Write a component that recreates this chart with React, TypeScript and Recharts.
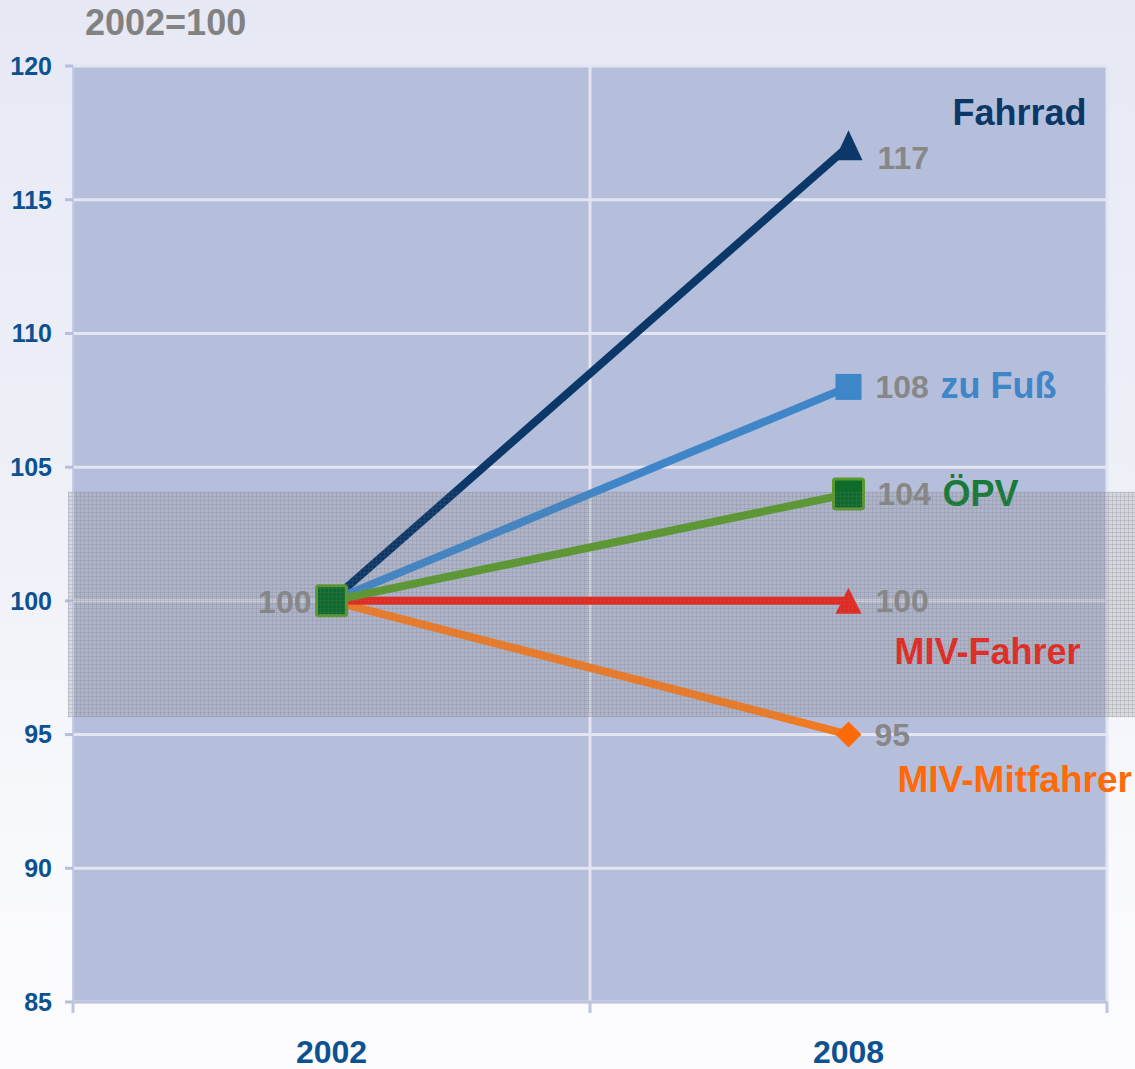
import React from 'react';
import {
  ComposedChart, Line, XAxis, YAxis, CartesianGrid, ReferenceArea, LabelList,
} from 'recharts';

const years = ['2002', '2008'];
const fahrrad = [100, 117];
const zuFuss = [100, 108];
const oepv = [100, 104];
const mivFahrer = [100, 100];
const mivMitfahrer = [100, 95];
const yTicks = [85, 90, 95, 100, 105, 110, 115, 120];
const bandRange = [95.65, 104.08];
const title = '2002=100';

const data = years.map((year, i) => ({
  year,
  fahrrad: fahrrad[i],
  zuFuss: zuFuss[i],
  oepv: oepv[i],
  mivFahrer: mivFahrer[i],
  mivMitfahrer: mivMitfahrer[i],
}));

const W = 1135;
const H = 1069;
const M = { top: 66, right: 28, left: 0, bottom: 0 };
const Y_W = 73;
const BAND = (W - M.left - M.right - Y_W) / years.length;

const FONT = '"Liberation Sans", Arial, sans-serif';
const GRAY = '#878787';
const NAVY_TICK = '#0d5190';

const C_FAHRRAD = '#0b3868';
const C_FUSS = '#3f86c8';
const C_OEPV = '#5a9a2d';
const C_OEPV_DARK = '#0d6b2c';
const C_OEPV_TEXT = '#187a38';
const C_FAHRER = '#e8281e';
const C_MIT_LINE = '#f07a24';
const C_MIT = '#ff6a08';

const ValText = ({ x, y, children, anchor = 'start' }: any) => (
  <text x={x} y={y} fill={GRAY} fontFamily={FONT} fontWeight="bold" fontSize={32} textAnchor={anchor}>{children}</text>
);
const NameText = ({ x, y, children, color, anchor = 'start' }: any) => (
  <text x={x} y={y} fill={color} fontFamily={FONT} fontWeight="bold" fontSize={36} textAnchor={anchor}>{children}</text>
);

const dotFahrrad = (p: any) => {
  const { cx, cy, index } = p;
  if (index !== 1) return <g key={`f${index}`} />;
  return (
    <polygon key={`f${index}`} points={`${cx},${cy - 16} ${cx + 14},${cy + 14} ${cx - 14},${cy + 14}`} fill={C_FAHRRAD} />
  );
};
const dotFuss = (p: any) => {
  const { cx, cy, index } = p;
  if (index !== 1) return <g key={`z${index}`} />;
  return <rect key={`z${index}`} x={cx - 13} y={cy - 13} width={26} height={26} fill={C_FUSS} />;
};
const dotOepv = (p: any) => {
  const { cx, cy, index } = p;
  return (
    <g key={`o${index}`}>
      <rect x={cx - 15} y={cy - 15} width={30} height={30} fill={C_OEPV_DARK} stroke={C_OEPV} strokeWidth={3} rx={2} />
    </g>
  );
};
const dotFahrer = (p: any) => {
  const { cx, cy, index } = p;
  if (index !== 1) return <g key={`r${index}`} />;
  return (
    <polygon key={`r${index}`} points={`${cx},${cy - 13} ${cx + 13},${cy + 13} ${cx - 13},${cy + 13}`} fill={C_FAHRER} />
  );
};
const dotMit = (p: any) => {
  const { cx, cy, index } = p;
  if (index !== 1) return <g key={`m${index}`} />;
  return (
    <polygon key={`m${index}`} points={`${cx},${cy - 13} ${cx + 13},${cy} ${cx},${cy + 13} ${cx - 13},${cy}`} fill={C_MIT} />
  );
};

const labelFahrrad = (p: any) => {
  const { x, y, index, value } = p;
  if (index !== 1) return null;
  return (
    <g>
      <ValText x={x + 29} y={y + 23}>{value}</ValText>
      <NameText x={x + 238} y={y - 21} color={C_FAHRRAD} anchor="end">Fahrrad</NameText>
    </g>
  );
};
const labelFuss = (p: any) => {
  const { x, y, index, value } = p;
  if (index !== 1) return null;
  return (
    <g>
      <ValText x={x + 27} y={y + 11}>{value}</ValText>
      <NameText x={x + 92} y={y + 11} color={C_FUSS}>zu Fuß</NameText>
    </g>
  );
};
const labelOepv = (p: any) => {
  const { x, y, index, value } = p;
  if (index === 0) {
    return <ValText x={x - 20} y={y + 12} anchor="end">{value}</ValText>;
  }
  return (
    <g>
      <ValText x={x + 29} y={y + 11}>{value}</ValText>
      <NameText x={x + 94} y={y + 12} color={C_OEPV_TEXT}>ÖPV</NameText>
    </g>
  );
};
const labelFahrer = (p: any) => {
  const { x, y, index, value } = p;
  if (index !== 1) return null;
  return (
    <g>
      <ValText x={x + 27} y={y + 11}>{value}</ValText>
      <NameText x={x + 46} y={y + 63} color={C_FAHRER}>MIV-Fahrer</NameText>
    </g>
  );
};
const labelMit = (p: any) => {
  const { x, y, index, value } = p;
  if (index !== 1) return null;
  return (
    <g>
      <ValText x={x + 26} y={y + 11}>{value}</ValText>
      <text x={x + 49} y={y + 57} fill={C_MIT} fontFamily={FONT} fontWeight="bold" fontSize={37}>MIV-Mitfahrer</text>
    </g>
  );
};

const XTick = (p: any) => {
  const { x, y, payload, index } = p;
  return (
    <g>
      <line x1={x - BAND / 2} x2={x - BAND / 2} y1={y - 8} y2={y + 3} stroke="#bcc4de" strokeWidth={3} />
      {index === years.length - 1 && (
        <line x1={x + BAND / 2} x2={x + BAND / 2} y1={y - 8} y2={y + 3} stroke="#bcc4de" strokeWidth={3} />
      )}
      <text x={x} y={y + 53} textAnchor="middle" fill={NAVY_TICK} fontFamily={FONT} fontWeight="bold" fontSize={32}>
        {payload.value}
      </text>
    </g>
  );
};

const BandUnder = (p: any) => {
  const { x, y, height } = p;
  return (
    <g>
      <defs>
        <pattern id="dotpatU" width={4} height={4} patternUnits="userSpaceOnUse">
          <rect width={4} height={4} fill="#9a9aa2" fillOpacity={0.3} />
          <rect width={4} height={1} fill="#8a8a90" fillOpacity={0.14} />
          <rect width={1} height={4} fill="#8a8a90" fillOpacity={0.14} />
        </pattern>
      </defs>
      <rect x={x - 5} y={y} width={W - x + 5} height={height} fill="url(#dotpatU)" />
    </g>
  );
};

const BandOver = (p: any) => {
  const { x, y, height } = p;
  return (
    <g>
      <defs>
        <pattern id="dotpatO" width={4} height={4} patternUnits="userSpaceOnUse">
          <rect width={4} height={1} fill="#808088" fillOpacity={0.14} />
          <rect width={1} height={4} fill="#808088" fillOpacity={0.14} />
        </pattern>
      </defs>
      <rect x={x - 5} y={y} width={W - x + 5} height={height} fill="url(#dotpatO)" />
    </g>
  );
};

export default function App() {
  return (
    <div
      style={{
        position: 'absolute', left: 0, top: 0, width: W, height: H,
        background: 'linear-gradient(180deg, #e6e9f4 0%, #eef0f8 45%, #f8f9fc 80%, #fcfcfe 100%)',
        fontFamily: FONT,
      }}
    >
      <div
        style={{
          position: 'absolute', left: 85, top: 5, fontSize: 36, fontWeight: 'bold', color: '#828282',
          lineHeight: '36px', fontFamily: FONT,
        }}
      >
        {title}
      </div>
      <ComposedChart width={W} height={H} data={data} margin={M} style={{ position: 'absolute', left: 0, top: 0 }}>
        <CartesianGrid
          fill="#b5bfdb"
          stroke="#e3e6f1"
          strokeWidth={3}
          horizontal
          vertical
          verticalCoordinatesGenerator={({ offset }: any) => [offset.left + offset.width / 2, offset.left + offset.width]}
        />
        <ReferenceArea y1={bandRange[0]} y2={bandRange[1]} ifOverflow="visible" shape={<BandUnder />} />
        <XAxis
          dataKey="year"
          type="category"
          scale="band"
          axisLine={{ stroke: '#bcc4de', strokeWidth: 3 }}
          tickLine={false}
          tick={<XTick />}
          height={H - M.top - 936}
          interval={0}
        />
        <YAxis
          domain={[85, 120]}
          ticks={yTicks}
          interval={0}
          width={Y_W}
          axisLine={{ stroke: '#c5cce3', strokeWidth: 2 }}
          tickLine={{ stroke: '#b5bfdb', strokeWidth: 3 }}
          tickSize={8}
          tickMargin={13}
          tick={{ fill: NAVY_TICK, fontFamily: FONT, fontWeight: 'bold', fontSize: 25 }}
        />
        <Line dataKey="fahrrad" stroke={C_FAHRRAD} strokeWidth={8} dot={dotFahrrad} isAnimationActive={false} activeDot={false}>
          <LabelList dataKey="fahrrad" content={labelFahrrad} />
        </Line>
        <Line dataKey="zuFuss" stroke={C_FUSS} strokeWidth={8} dot={dotFuss} isAnimationActive={false} activeDot={false}>
          <LabelList dataKey="zuFuss" content={labelFuss} />
        </Line>
        <Line dataKey="mivMitfahrer" stroke={C_MIT_LINE} strokeWidth={8} dot={dotMit} isAnimationActive={false} activeDot={false}>
          <LabelList dataKey="mivMitfahrer" content={labelMit} />
        </Line>
        <Line dataKey="mivFahrer" stroke={C_FAHRER} strokeWidth={8} dot={dotFahrer} isAnimationActive={false} activeDot={false}>
          <LabelList dataKey="mivFahrer" content={labelFahrer} />
        </Line>
        <Line dataKey="oepv" stroke={C_OEPV} strokeWidth={8} dot={dotOepv} isAnimationActive={false} activeDot={false}>
          <LabelList dataKey="oepv" content={labelOepv} />
        </Line>
        <ReferenceArea y1={bandRange[0]} y2={bandRange[1]} ifOverflow="visible" shape={<BandOver />} zIndex={2000} />
      </ComposedChart>
    </div>
  );
}
